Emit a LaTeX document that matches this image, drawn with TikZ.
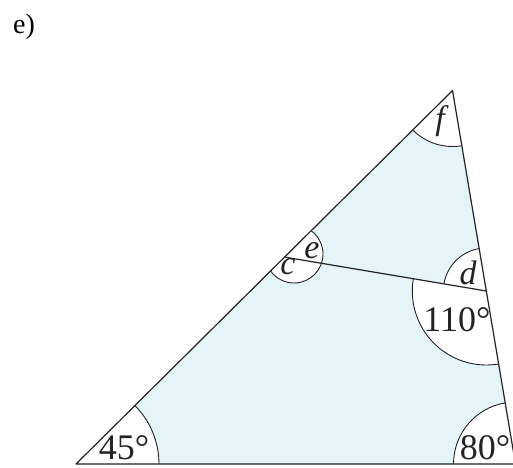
\documentclass[tikz,border=0pt]{standalone}
\usepackage{fontspec}
\setmainfont{Liberation Serif}
\usetikzlibrary{angles}
\definecolor{paper}{RGB}{228,244,248}
\definecolor{ink}{RGB}{35,35,35}
\begin{document}
\begin{tikzpicture}[x=1pt,y=-1pt,line join=round,
  edge/.style={line width=1.2pt, draw=ink},
  sector/.style={fill=white, draw=ink, line width=0.9pt},
  numlab/.style={inner sep=0pt, text=ink, font=\fontsize{36}{36}\selectfont},
  letlab/.style={inner sep=0pt, text=ink, font=\fontsize{34}{34}\selectfont\itshape},
  titlelab/.style={inner sep=0pt, text=black, font=\fontsize{28}{28}\selectfont}]
\useasboundingbox (0,0) rectangle (513,467);
\clip (0,0) rectangle (513,467);
\coordinate (A) at (76,464);
\coordinate (B) at (452.5,90.5);
\coordinate (C) at (515.5,464);
\coordinate (P) at (284.2,257);
\coordinate (Q) at (486.3,291);
\coordinate (O) at (294,254);
% shaded triangle
\fill[paper] (A) -- (B) -- (C) -- cycle;
% angle sectors
\pic[sector, angle radius=83pt] {angle=C--A--B};
\pic[sector, angle radius=56pt] {angle=A--B--C};
\pic[sector, angle radius=62pt] {angle=B--C--A};
\pic[sector, angle radius=43pt] {angle=B--Q--P};
\pic[sector, angle radius=74pt] {angle=P--Q--C};
\begin{scope}
  \clip (A) -- (B) -- (C) -- cycle;
  \filldraw[sector] (O) circle (29);
\end{scope}
% edges
\draw[edge] (A) -- (B) -- (C) -- cycle;
\draw[edge] (P) -- (Q);
% labels
\node[titlelab] (title) at (24,27) {e)};
\node[numlab] (l45) at (124,448) {45°};
\node[numlab] (l80) at (485,448) {80°};
\node[numlab] (l110) at (457,320) {110°};
\node[letlab] (ld) at (468,272.5) {d};
\node[letlab] (lf) at (440,121.5) {f};
\node[letlab] (le) at (312,250.5) {e};
\node[letlab] (lc) at (288,267) {c};
\end{tikzpicture}
\end{document}
